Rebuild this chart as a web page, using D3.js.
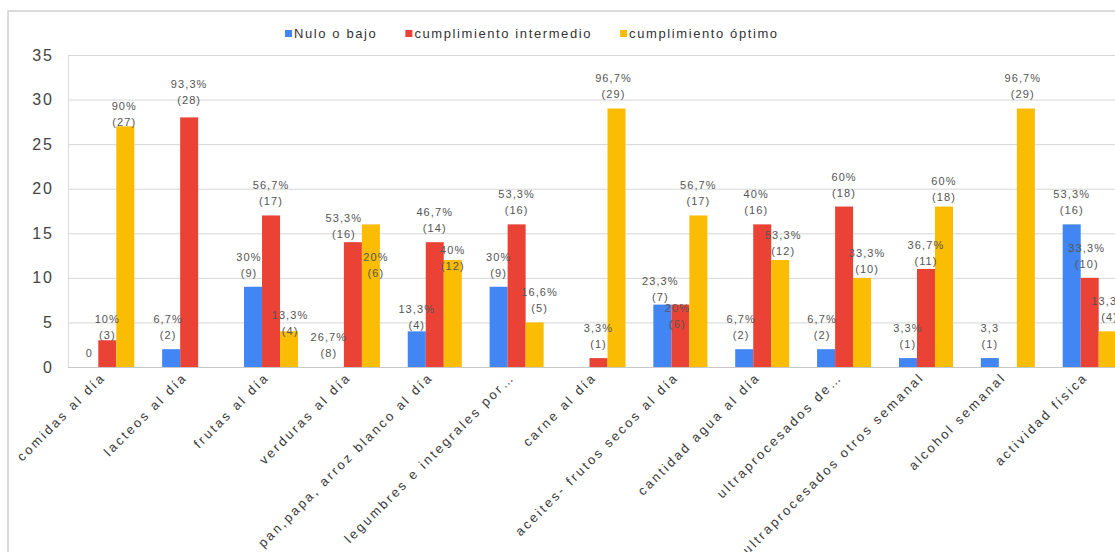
<!DOCTYPE html>
<html>
<head>
<meta charset="utf-8">
<script src="https://cdn.jsdelivr.net/npm/d3@7/dist/d3.min.js"></script>
<style>
  html, body { margin: 0; padding: 0; background: #fff; overflow: hidden; }
  svg { display: block; font-family: "Liberation Sans", Arial, sans-serif; }
</style>
</head>
<body>
<svg id="chart" width="1115" height="552"></svg>
<script>
// ---------- data ----------
const categories = [
  "comidas al día", "lacteos al día", "frutas al día", "verduras al día",
  "pan,papa, arroz blanco al día", "legumbres e integrales por…", "carne al día",
  "aceites- frutos secos al día", "cantidad agua al día", "ultraprocesados de…",
  "ultraprocesados otros semanal", "alcohol semanal", "actividad física"
];
const seriesNames = ["Nulo o bajo", "cumplimiento intermedio", "cumplimiento óptimo"];
const seriesColors = ["#4285f4", "#ea4335", "#fbbc04"];

const nuloValues       = [0, 2, 9, 0, 4, 9, 0, 7, 2, 2, 1, 1, 16];
const intermedioValues = [3, 28, 17, 14, 14, 16, 1, 7, 16, 18, 11, 0, 10];
const optimoValues     = [27, 0, 4, 16, 12, 5, 29, 17, 12, 10, 18, 29, 4];

const nuloPct       = ["", "6,7%", "30%", "26,7%", "13,3%", "30%", null, "23,3%", "6,7%", "6,7%", "3,3%", "3,3", "53,3%"];
const nuloCount     = ["0", "(2)", "(9)", "(8)", "(4)", "(9)", null, "(7)", "(2)", "(2)", "(1)", "(1)", "(16)"];
const intermedioPct   = ["10%", "93,3%", "56,7%", "53,3%", "46,7%", "53,3%", "3,3%", "20%", "40%", "60%", "36,7%", null, "33,3%"];
const intermedioCount = ["(3)", "(28)", "(17)", "(16)", "(14)", "(16)", "(1)", "(6)", "(16)", "(18)", "(11)", null, "(10)"];
const optimoPct     = ["90%", null, "13,3%", "20%", "40%", "16,6%", "96,7%", "56,7%", "53,3%", "33,3%", "60%", "96,7%", "13,3%"];
const optimoCount   = ["(27)", null, "(4)", "(6)", "(12)", "(5)", "(29)", "(17)", "(12)", "(10)", "(18)", "(29)", "(4)"];

const yTicks = [0, 5, 10, 15, 20, 25, 30, 35];

// manual label nudges (pixels) as in the original chart: "category-series": [dx, dy]
const labelNudge = {
  "0-1": [0, 9], "0-2": [-1, 10], "1-0": [-3, 0], "1-1": [0, -3],
  "2-0": [-4, 0], "2-2": [1, 14], "3-0": [-6, 0], "3-1": [-9, 6], "3-2": [5, 63],
  "4-0": [0, 8], "4-2": [0, 20], "5-2": [5, 0], "6-2": [-3, 0],
  "7-0": [-2, 6], "7-1": [-3, 33], "8-0": [-3, 0], "8-1": [-6, 0], "8-2": [3, 5],
  "9-0": [-4, 0], "9-2": [5, 5], "10-1": [0, 6], "10-2": [0, 4],
  "11-2": [-3, 0], "12-1": [-3, 0], "12-2": [2, 0]
};

// ---------- build ----------
const seriesValues = [nuloValues, intermedioValues, optimoValues];
const seriesPct = [nuloPct, intermedioPct, optimoPct];
const seriesCount = [nuloCount, intermedioCount, optimoCount];

const table = categories.map((c, i) => ({
  cat: c, i,
  bars: seriesNames.map((s, k) => ({
    s, k, i, v: seriesValues[k][i], pct: seriesPct[k][i], cnt: seriesCount[k][i]
  }))
}));

const svg = d3.select("#chart");
const W = 1115, H = 552;
const plotLeft = 68, plotRight = 1129, plotTop = 55, plotBottom = 367;

// outer frame
svg.append("rect")
  .attr("x", 8).attr("y", 11).attr("width", W).attr("height", H)
  .attr("fill", "none").attr("stroke", "#d0d0d0").attr("stroke-width", 1.5);

const x0 = d3.scaleBand().domain(categories).range([plotLeft, plotRight])
  .paddingInner(0.34).paddingOuter(0.15);
const x1 = d3.scaleBand().domain(seriesNames).range([0, x0.bandwidth()]);
const y = d3.scaleLinear().domain([0, 35]).range([plotBottom, plotTop]);

// y axis + gridlines
const yAxis = svg.append("g")
  .attr("transform", `translate(${plotLeft},0)`)
  .call(d3.axisLeft(y).tickValues(yTicks).tickSize(-(plotRight - plotLeft)).tickSizeOuter(0).tickPadding(14));
yAxis.select(".domain").attr("stroke", "#dcdcdc");
yAxis.selectAll(".tick line").attr("stroke", d => d === 0 ? "#c8c8c8" : "#d6d6d6").attr("stroke-width", 1);
yAxis.selectAll(".tick text")
  .attr("fill", "#444").style("font-size", "16px").style("letter-spacing", "2px")
  .style("font-family", "'Liberation Sans', Arial, sans-serif");

// bars
const groups = svg.append("g").selectAll("g.grp").data(table).join("g")
  .attr("class", "grp")
  .attr("transform", d => `translate(${x0(d.cat)},0)`);

groups.selectAll("rect").data(d => d.bars.filter(b => b.v > 0)).join("rect")
  .attr("x", b => x1(b.s))
  .attr("width", x1.bandwidth())
  .attr("y", b => y(b.v))
  .attr("height", b => y(0) - y(b.v))
  .attr("fill", b => seriesColors[b.k]);

// data labels
const lab = svg.append("g");
table.forEach(d => {
  d.bars.forEach(b => {
    if (b.cnt == null) return;
    const nud = labelNudge[b.i + "-" + b.k] || [0, 0];
    const cx = x0(d.cat) + x1(b.s) + x1.bandwidth() / 2 + nud[0];
    const cntY = y(b.v) - 14 + nud[1] + 4;
    const t = lab.append("text")
      .attr("text-anchor", "middle")
      .attr("fill", "#555")
      .style("font-size", "11px").style("letter-spacing", "1.1px");
    if (b.pct) {
      t.append("tspan").attr("x", cx).attr("y", cntY - 16).text(b.pct);
    }
    t.append("tspan").attr("x", cx).attr("y", cntY).text(b.cnt);
  });
});

// x labels (rotated)
const xl = svg.append("g");
categories.forEach(c => {
  const cx = x0(c) + x0.bandwidth() / 2;
  xl.append("text")
    .attr("transform", `translate(${cx - 1},${plotBottom + 11}) rotate(-45)`)
    .attr("text-anchor", "end")
    .attr("fill", "#3a3a3a")
    .style("font-size", "13px").style("letter-spacing", "2.5px")
    .text(c);
});

// legend
const leg = svg.append("g");
let lx = 285;
seriesNames.forEach((s, k) => {
  leg.append("rect").attr("x", lx).attr("y", 30).attr("width", 7).attr("height", 7)
    .attr("fill", seriesColors[k]);
  const t = leg.append("text").attr("x", lx + 9).attr("y", 38)
    .attr("fill", "#333")
    .style("font-size", "13px").style("letter-spacing", "1.6px")
    .text(s);
  lx += 9 + t.node().getComputedTextLength() + 28;
});
</script>
</body>
</html>
